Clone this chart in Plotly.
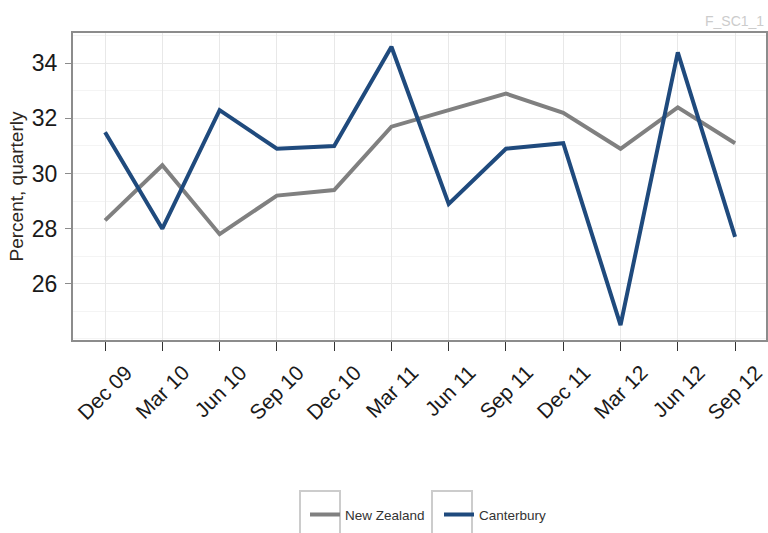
import plotly.graph_objects as go

quarters = ["Dec 09", "Mar 10", "Jun 10", "Sep 10", "Dec 10", "Mar 11",
            "Jun 11", "Sep 11", "Dec 11", "Mar 12", "Jun 12", "Sep 12"]
new_zealand = [28.3, 30.3, 27.8, 29.2, 29.4, 31.7, 32.3, 32.9, 32.2, 30.9, 32.4, 31.1]
canterbury = [31.5, 28.0, 32.3, 30.9, 31.0, 34.6, 28.9, 30.9, 31.1, 24.5, 34.4, 27.7]
y_ticks = [26, 28, 30, 32, 34]

x_idx = list(range(len(quarters)))

# plot area in pixels (for converting legend-key frames into paper coordinates)
W, H = 768, 533
L, R, T, B = 73, 2, 33, 189
pw, ph = W - L - R, H - T - B


def px_x(p):
    return (p - L) / pw


def px_y(p):
    return (H - B - p) / ph


fig = go.Figure()
fig.add_trace(go.Scatter(x=x_idx, y=new_zealand, mode="lines", name="New Zealand",
                         line=dict(color="#808080", width=4)))
fig.add_trace(go.Scatter(x=x_idx, y=canterbury, mode="lines", name="Canterbury",
                         line=dict(color="#1f4a7d", width=4)))

# light frames around each legend key
key_frames = []
for left in (300, 432):
    key_frames.append(dict(type="rect", xref="paper", yref="paper",
                           x0=px_x(left), x1=px_x(left + 40),
                           y0=px_y(545), y1=px_y(497),
                           line=dict(color="#cccccc", width=2), layer="below"))

fig.update_layout(
    width=W, height=H,
    margin=dict(l=L, r=R, t=T, b=B),
    paper_bgcolor="white", plot_bgcolor="white",
    font=dict(family="Arial, Liberation Sans, sans-serif", color="#1a1a1a"),
    showlegend=True,
    legend=dict(orientation="h", x=px_x(305), xanchor="left",
                y=px_y(521), yanchor="middle",
                font=dict(size=13.5, color="#333333"),
                entrywidth=89, entrywidthmode="pixels",
                bgcolor="rgba(0,0,0,0)"),
    shapes=key_frames,
    annotations=[dict(text="F_SC1_1", xref="paper", yref="paper", x=1.0, y=1.0,
                      xanchor="right", yanchor="bottom", yshift=2, showarrow=False,
                      font=dict(size=14, color="#cccccc"))],
)

fig.update_xaxes(
    range=[-0.56, 11.54], tickmode="array", tickvals=x_idx, ticktext=quarters,
    tickangle=-45, tickfont=dict(size=21, color="#1a1a1a"),
    ticklabelshift=21, ticklabelstandoff=1, ticklabeloverflow="allow",
    ticks="outside", ticklen=9, tickcolor="#333333", tickwidth=1,
    showgrid=True, gridcolor="#e8e8e8", gridwidth=1.3,
    showline=True, linecolor="#8c8c8c", linewidth=2, mirror=True, zeroline=False,
    automargin=False,
)
fig.update_yaxes(
    range=[23.96, 35.1], tickmode="array", tickvals=y_ticks,
    tickfont=dict(size=23, color="#1a1a1a"),
    ticklabelstandoff=3,
    ticks="outside", ticklen=6, tickcolor="#8c8c8c", tickwidth=1,
    showgrid=True, gridcolor="#e8e8e8", gridwidth=1.3,
    minor=dict(dtick=1, tick0=25, showgrid=True, gridcolor="#f4f4f4", gridwidth=1),
    showline=True, linecolor="#8c8c8c", linewidth=2, mirror=True, zeroline=False,
    title=dict(text="Percent, quarterly", font=dict(size=19, color="#2e2620"), standoff=3),
    automargin=False,
)

fig.write_html("out.html")
